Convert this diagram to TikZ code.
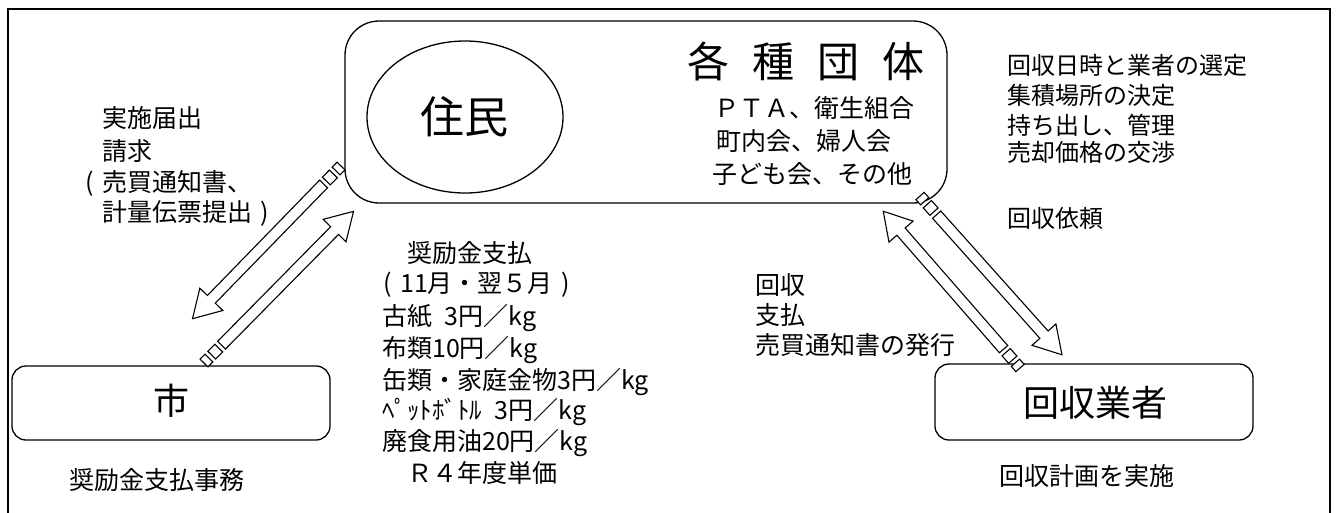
\documentclass[tikz,border=0pt]{standalone}
\usepackage{fontspec}
\setmainfont{Noto Sans CJK JP}
\usetikzlibrary{shapes.geometric}
\newcommand\stripedArrow[3]{%
  \begin{scope}[shift={(#1)}, rotate=#2]
    \draw[sarrow] (0,-5.5) rectangle (7,5.5);
    \draw[sarrow] (11,-5.5) rectangle (21,5.5);
    \draw[sarrow] (25,-5.5) -- ({#3-27},-5.5) -- ({#3-27},-16) -- (#3,0)
      -- ({#3-27},16) -- ({#3-27},5.5) -- (25,5.5) -- cycle;
  \end{scope}}
\newcommand\lpar{\makebox[1em][c]{(}}
\newcommand\rpar{\makebox[1em][c]{)}}
\begin{document}
\begin{tikzpicture}[x=1pt,y=-1pt,
  lbl/.style={inner sep=0pt, anchor=west, font=\fontsize{25}{30}\selectfont},
  lblr/.style={inner sep=0pt, anchor=west, font=\fontsize{24}{28}\selectfont},
  rbox/.style={draw, line width=1.3pt, rounded corners=14pt, inner sep=0pt},
  sarrow/.style={draw, fill=white, line width=1.1pt, line join=miter}]
\clip (0,0) rectangle (1338,512);
\fill[white] (0,0) rectangle (1338,512);
% outer frame
\draw[line width=2.5pt] (8,530) -- (8,9) -- (1330,9) -- (1330,530);

% group box
\node[rbox, rounded corners=34pt, minimum width=602pt, minimum height=182pt] (grp) at (646,112) {};
\node[draw, ellipse, line width=1.3pt, minimum width=196pt, minimum height=152pt] (jumin) at (465,117) {};
\node[inner sep=0pt, font=\fontsize{44}{50}\selectfont] (juminT) at (464,117) {住民};
\node[inner sep=0pt, anchor=east, font=\fontsize{42}{48}\selectfont] (kaku) at (925,61)
  {各\hspace{0.55em}種\hspace{0.55em}団\hspace{0.55em}体};
\node[lbl] (g1) at (714,108) {ＰＴＡ、衛生組合};
\node[lbl] (g2) at (716,141) {町内会、婦人会};
\node[lbl] (g3) at (712,174) {子ども会、その他};

% city box
\node[rbox, minimum width=318pt, minimum height=74pt] (city) at (171,403) {};
\node[inner sep=0pt, font=\fontsize{36}{40}\selectfont] (cityT) at (171,401) {市};
\node[inner sep=0pt, font=\fontsize{25}{30}\selectfont] (cityS) at (157,480) {奨励金支払事務};

% collector box
\node[rbox, minimum width=318pt, minimum height=76pt] (coll) at (1094,402) {};
\node[inner sep=0pt, font=\fontsize{36}{40}\selectfont] (collT) at (1095,403) {回収業者};
\node[inner sep=0pt, font=\fontsize{25}{30}\selectfont] (collS) at (1087,476) {回収計画を実施};

% left labels
\node[lbl] (l1) at (102,118) {実施届出};
\node[lbl] (l2) at (102,151) {請求};
\node[lbl] (l3) at (77,183) {\lpar 売買通知書、};
\node[lbl] (l4) at (102,213) {計量伝票提出\rpar};

% middle labels
\node[lbl] (m1) at (407,253) {奨励金支払};
\node[lbl] (m2) at (375,285) {\lpar 11月・翌５月\rpar};
\node[lbl] (m3) at (382,318) {古紙\hspace{0.5em}3円／kg};
\node[lbl] (m4) at (382,350) {布類10円／kg};
\node[lbl] (m5) at (382,382) {缶類・家庭金物3円／kg};
\node[lbl] (m6) at (382,412) {ﾍﾟｯﾄﾎﾞﾄﾙ\hspace{0.5em}3円／kg};
\node[lbl] (m7) at (382,443) {廃食用油20円／kg};
\node[lbl] (m8) at (407,473) {Ｒ４年度単価};

% middle-right labels
\node[lbl] (n1) at (755,285) {回収};
\node[lbl] (n2) at (755,315) {支払};
\node[lbl] (n3) at (755,345) {売買通知書の発行};

% right labels
\node[lblr] (r1) at (1007,65) {回収日時と業者の選定};
\node[lblr] (r2) at (1007,95) {集積場所の決定};
\node[lblr] (r3) at (1007,125) {持ち出し、管理};
\node[lblr] (r4) at (1007,152) {売却価格の交渉};
\node[lblr] (r5) at (1007,218) {回収依頼};

% arrow anchor points
\coordinate (aT) at (341,166);
\coordinate (bT) at (204,363);
\coordinate (cT) at (920,196);
\coordinate (dT) at (1020,368);
\stripedArrow{aT}{-134.2}{213}
\stripedArrow{bT}{45.4}{213}
\stripedArrow{cT}{-48.2}{213}
\stripedArrow{dT}{131.1}{208}
\end{tikzpicture}
\end{document}
